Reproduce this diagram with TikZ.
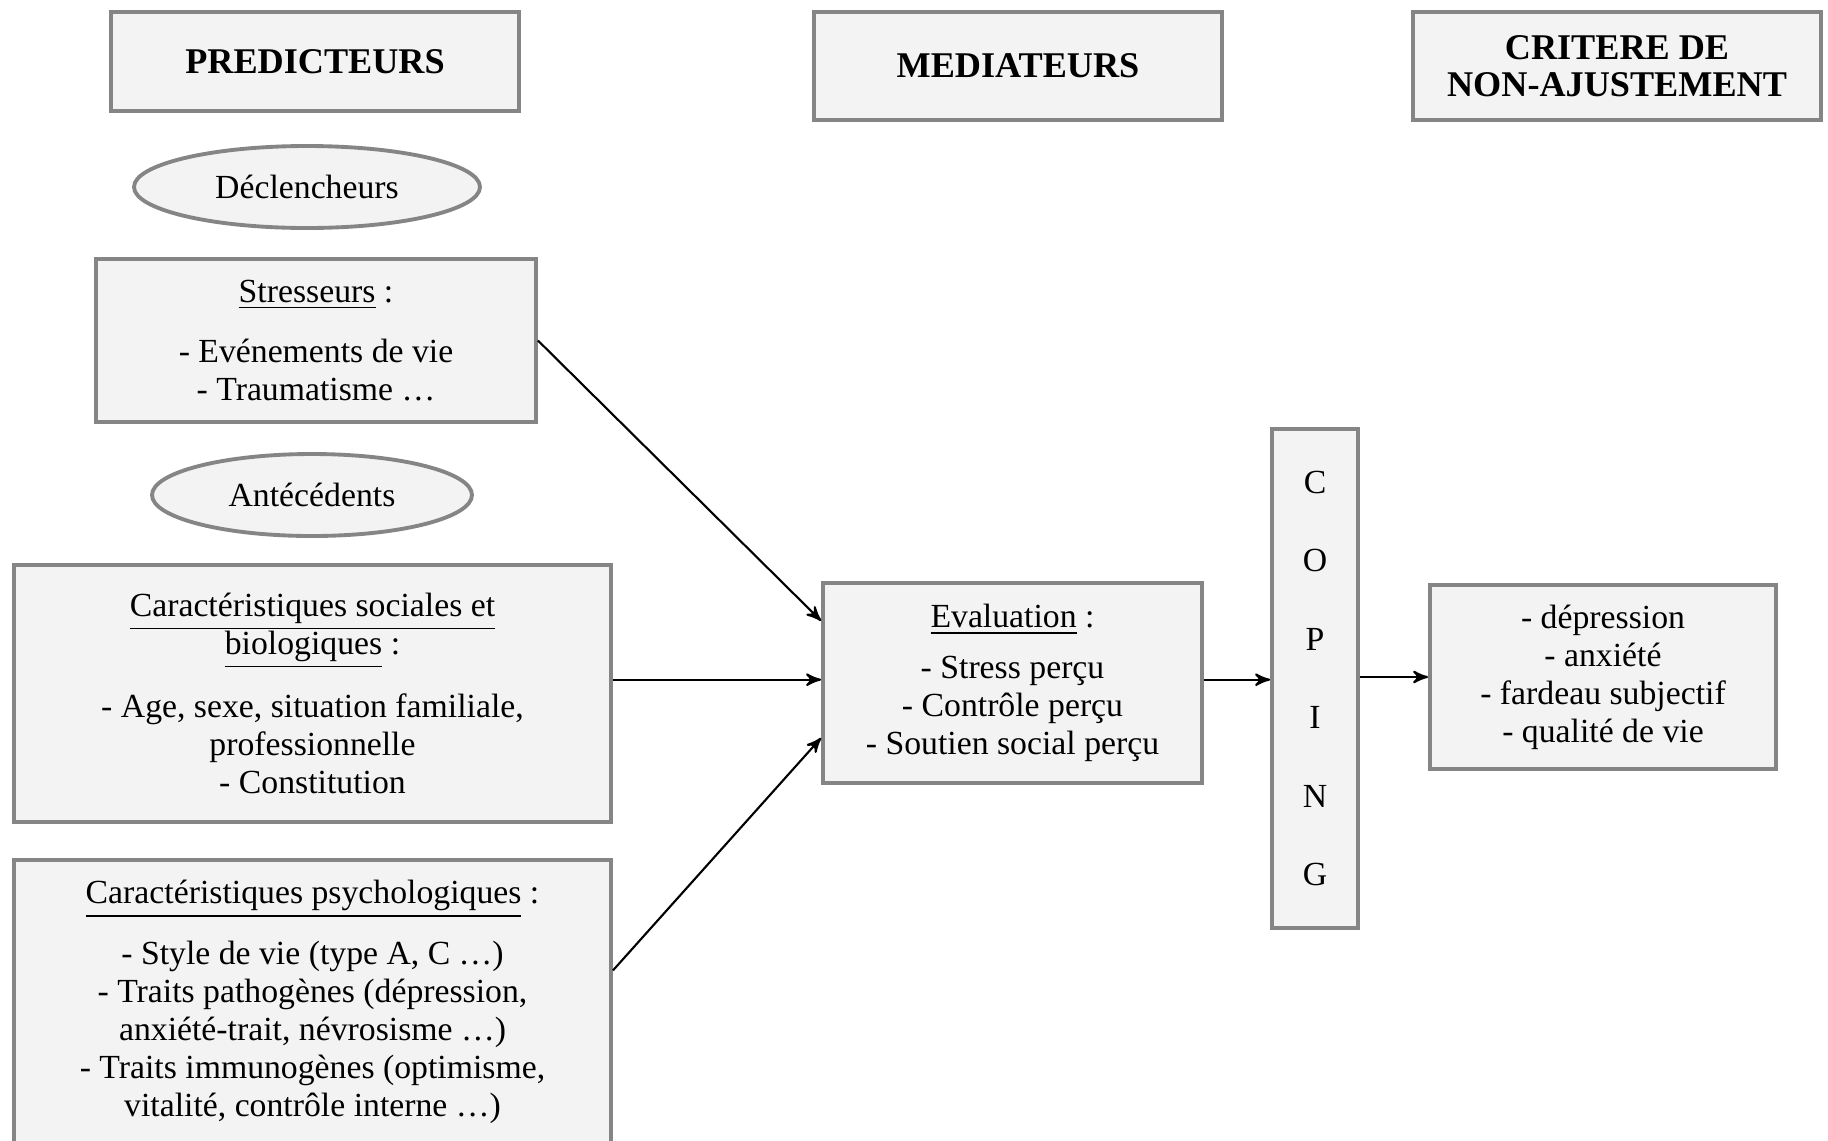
\documentclass[tikz,border=0pt]{standalone}
\usepackage{fontspec}
\setmainfont{Liberation Serif}
\usepackage{xcolor}
\usepackage{tikz}
\usetikzlibrary{arrows,shapes.geometric}
\usetikzlibrary{positioning}

\definecolor{boxfill}{HTML}{F3F3F3}
\definecolor{boxline}{HTML}{858585}

\begin{document}
\begin{tikzpicture}[-,>=stealth',semithick]
						\tikzstyle{bloc}=[draw=boxline, fill=boxfill, line width=1.1pt, rectangle, align=center, inner sep=2pt, font=\fontsize{9.6}{10.8}\selectfont]
						\tikzstyle{titre}=[bloc, minimum width=4.08cm, font=\fontsize{10.3}{10.6}\selectfont\bfseries]
						\tikzstyle{ovale}=[bloc, ellipse, inner sep=0pt]
						\useasboundingbox (0,0) rectangle (18.28,-11.40);
						\node[titre, minimum height=0.99cm]	(pred) at (3.15,-0.615)	{PREDICTEURS};
						\node[titre, minimum height=1.08cm]	(med) at (10.18,-0.66)	{MEDIATEURS};
						\node[titre, minimum height=1.08cm]	(crit) at (16.17,-0.66)	{CRITERE DE\\NON-AJUSTEMENT};
						\node[ovale, minimum width=3.46cm, minimum height=0.82cm]	(decl) at (3.07,-1.87)	{Déclencheurs};
						\node[bloc, minimum width=4.40cm, minimum height=1.63cm]	(stress) at (3.16,-3.405)
							{\underline{Stresseurs} :\\[6.5pt] - Evénements de vie\\ - Traumatisme …};
						\node[ovale, minimum width=3.20cm, minimum height=0.82cm]	(ante) at (3.12,-4.95)	{Antécédents};
						\node[bloc, minimum width=5.97cm, minimum height=2.57cm]	(soc) at (3.125,-6.935)
							{\underline{Caractéristiques sociales et}\\ \underline{biologiques} :\\[6.2pt] - Age, sexe, situation familiale,\\ professionnelle\\ - Constitution};
						\node[bloc, minimum width=5.97cm, minimum height=2.84cm]	(psy) at (3.125,-10.02)
							{\underline{Caractéristiques psychologiques} :\\[6.5pt] - Style de vie (type A, C …)\\ - Traits pathogènes (dépression,\\ anxiété-trait, névrosisme …)\\ - Traits immunogènes (optimisme,\\ vitalité, contrôle interne …)};
						\node[bloc, minimum width=3.79cm, minimum height=2.00cm]	(eval) at (10.125,-6.83)
							{\underline{Evaluation} :\\[3.7pt] - Stress perçu\\ - Contrôle perçu\\ - Soutien social perçu};
						\node[bloc, minimum width=0.86cm, minimum height=4.99cm, font=\fontsize{9.6}{22.3}\selectfont]	(coping) at (13.15,-6.785)
							{C\\O\\P\\I\\N\\G};
						\node[bloc, minimum width=3.46cm, minimum height=1.84cm]	(res) at (16.03,-6.77)
							{- dépression\\ - anxiété\\ - fardeau subjectif\\ - qualité de vie};
				  \path[->]
					 (stress.east) edge (eval.162)
					 (soc.east |- eval.179) edge (eval.179)
					 (psy.6) edge (eval.196)
					 (eval.1) edge (eval.1 -| coping.west)
					 (res.west -| coping.east) edge (res.west);
\end{tikzpicture}
\end{document}
